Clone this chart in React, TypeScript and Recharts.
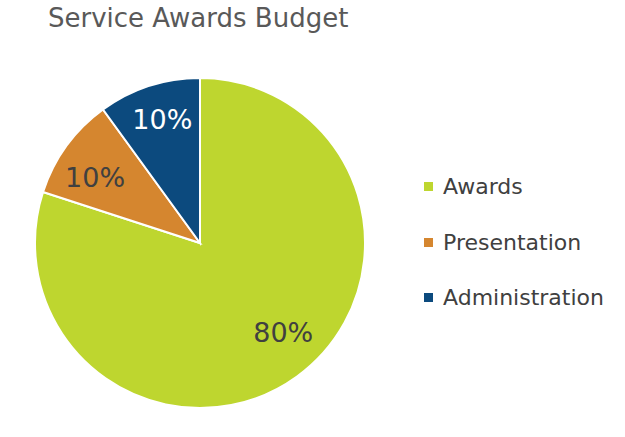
import { Cell, Legend, Pie, PieChart } from "recharts";

const CATEGORIES = ["Awards", "Presentation", "Administration"];
const SHARES = [80, 10, 10];
const COLORS = ["#bed62f", "#d5862f", "#0c4a7e"];
const LABEL_COLORS = ["#404040", "#404040", "#ffffff"];
// small nudges so the inner labels sit where Excel's "best fit" put them
const LABEL_ANGLE_SHIFT = [7, 4, -1];
const LABEL_RADIUS = [0.74, 0.75, 0.78];

const FONT = "DejaVu Sans, Verdana, sans-serif";

const data = CATEGORIES.map((name, i) => ({ name, value: SHARES[i] }));

const RADIAN = Math.PI / 180;

function renderLabel(props: any) {
  const { cx, cy, midAngle, outerRadius, index, value } = props;
  const r = outerRadius * LABEL_RADIUS[index];
  const a = (midAngle + LABEL_ANGLE_SHIFT[index]) * RADIAN;
  const x = cx + r * Math.cos(-a);
  const y = cy + r * Math.sin(-a);
  return (
    <text
      x={x}
      y={y}
      fill={LABEL_COLORS[index]}
      textAnchor="middle"
      dominantBaseline="central"
      fontSize={27}
      fontFamily={FONT}
    >
      {`${value}%`}
    </text>
  );
}

function LegendBox() {
  return (
    <div style={{ fontFamily: FONT }}>
      {data.map((d, i) => (
        <div
          key={d.name}
          style={{ display: "flex", alignItems: "center", height: 55.5 }}
        >
          <span
            style={{
              width: 9,
              height: 9,
              background: COLORS[i],
              marginRight: 10,
              display: "inline-block"
            }}
          />
          <span style={{ fontSize: 22, color: "#404040" }}>{d.name}</span>
        </div>
      ))}
    </div>
  );
}

export default function App() {
  return (
    <div
      style={{
        position: "absolute",
        left: 0,
        top: 0,
        width: 625,
        height: 437,
        background: "#fff"
      }}
    >
      <div
        style={{
          position: "absolute",
          left: 48,
          top: 3,
          fontSize: 26,
          color: "#595959",
          fontFamily: FONT,
          zIndex: 1
        }}
      >
        Service Awards Budget
      </div>
      <PieChart width={625} height={437}>
        <Pie
          data={data}
          dataKey="value"
          nameKey="name"
          cx={195}
          cy={238}
          outerRadius={165}
          startAngle={90}
          endAngle={-270}
          stroke="#ffffff"
          strokeWidth={2}
          labelLine={false}
          label={renderLabel}
          isAnimationActive={false}
        >
          {data.map((entry, index) => (
            <Cell key={`cell-${index}`} fill={COLORS[index]} />
          ))}
        </Pie>
        <Legend
          content={<LegendBox />}
          wrapperStyle={{ position: "absolute", left: 424, top: 159, width: 200 }}
        />
      </PieChart>
    </div>
  );
}
